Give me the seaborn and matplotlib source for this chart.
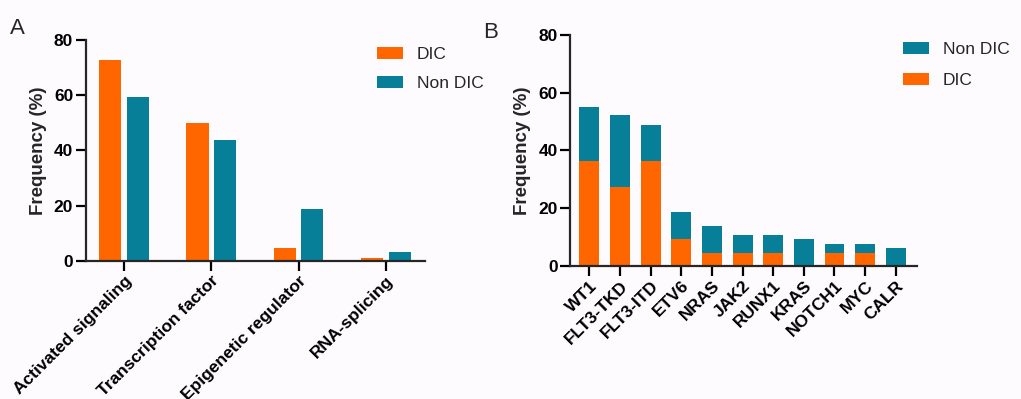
import numpy as np
import pandas as pd
import seaborn as sns
import matplotlib.pyplot as plt

# panel A: mutation classes
classes = ['Activated signaling', 'Transcription factor', 'Epigenetic regulator', 'RNA-splicing']
class_dic = [72.7, 50.0, 4.5, 0.9]
class_non_dic = [59.4, 43.8, 18.8, 3.1]

# panel B: individual genes (stacked)
genes = ['WT1', 'FLT3-TKD', 'FLT3-ITD', 'ETV6', 'NRAS', 'JAK2', 'RUNX1', 'KRAS', 'NOTCH1', 'MYC', 'CALR']
gene_dic = [36.4, 27.3, 36.4, 9.1, 4.5, 4.5, 4.5, 0.0, 4.5, 4.5, 0.0]
gene_non_dic = [18.8, 25.0, 12.5, 9.4, 9.4, 6.3, 6.3, 9.4, 3.1, 3.1, 6.3]

ORANGE = '#ff6600'
TEAL = '#077f99'
BG = '#fdfbfd'

sns.set_theme(style='ticks')
plt.rcParams['font.family'] = ['Liberation Sans', 'DejaVu Sans']
plt.rcParams['axes.linewidth'] = 1.6

fig = plt.figure(figsize=(10.21, 3.99), dpi=100, facecolor=BG)
axA = fig.add_axes([0.0839, 0.3466, 0.3324, 0.5531])
axB = fig.add_axes([0.5583, 0.3340, 0.3396, 0.5783])


def style_axis(ax):
    ax.set_facecolor(BG)
    sns.despine(ax=ax)
    ax.set_ylim(0, 80)
    ax.set_yticks([0, 20, 40, 60, 80])
    ax.tick_params(axis='both', length=7, width=1.6, color='black', pad=2,
                   labelsize=12.5, labelcolor='black')
    for lab in ax.get_yticklabels():
        lab.set_fontweight('bold')
    ax.set_ylabel('Frequency (%)', fontsize=13.5, fontweight='bold', labelpad=5)
    ax.set_xlabel('')


legend_kw = dict(loc='upper left', bbox_transform=fig.transFigure, frameon=False,
                 fontsize=12.5, borderpad=0, borderaxespad=0, handlelength=1.5,
                 handleheight=0.7, handletextpad=0.8)

# ---- panel A ----
dfA = pd.DataFrame({
    'category': classes * 2,
    'value': class_dic + class_non_dic,
    'group': ['DIC'] * len(classes) + ['Non DIC'] * len(classes),
})
sns.barplot(data=dfA, x='category', y='value', hue='group', order=classes,
            palette={'DIC': ORANGE, 'Non DIC': TEAL}, width=0.632, gap=0.2,
            saturation=1, linewidth=0, ax=axA, legend=True)
axA.set_xlim(-0.44, 3.45)
style_axis(axA)
axA.set_xticks(range(len(classes)))
axA.set_xticklabels(classes, rotation=45, ha='right', rotation_mode='anchor',
                    fontsize=12.5, fontweight='bold')
axA.legend(bbox_to_anchor=(377 / 1021, 1 - 47 / 399), labelspacing=0.78, **legend_kw)

# ---- panel B ----
dfB = pd.DataFrame({'gene': genes, 'DIC': gene_dic, 'Non DIC': gene_non_dic})
dfB['total'] = dfB['DIC'] + dfB['Non DIC']
sns.barplot(data=dfB, x='gene', y='total', order=genes, color=TEAL,
            saturation=1, width=0.65, linewidth=0, ax=axB, label='Non DIC')
sns.barplot(data=dfB, x='gene', y='DIC', order=genes, color=ORANGE,
            saturation=1, width=0.65, linewidth=0, ax=axB, label='DIC')
axB.set_xlim(-0.63, 10.685)
style_axis(axB)
axB.set_xticks(range(len(genes)))
axB.set_xticklabels(genes, rotation=45, ha='right', rotation_mode='anchor',
                    fontsize=12.5, fontweight='bold')
axB.legend(bbox_to_anchor=(902.7 / 1021, 1 - 42 / 399), labelspacing=0.9, **legend_kw)

fig.text(10 / 1021, 1 - 34 / 399, 'A', fontsize=16)
fig.text(483 / 1021, 1 - 38 / 399, 'B', fontsize=16)

fig.savefig('out.png', dpi=100, facecolor=BG)
